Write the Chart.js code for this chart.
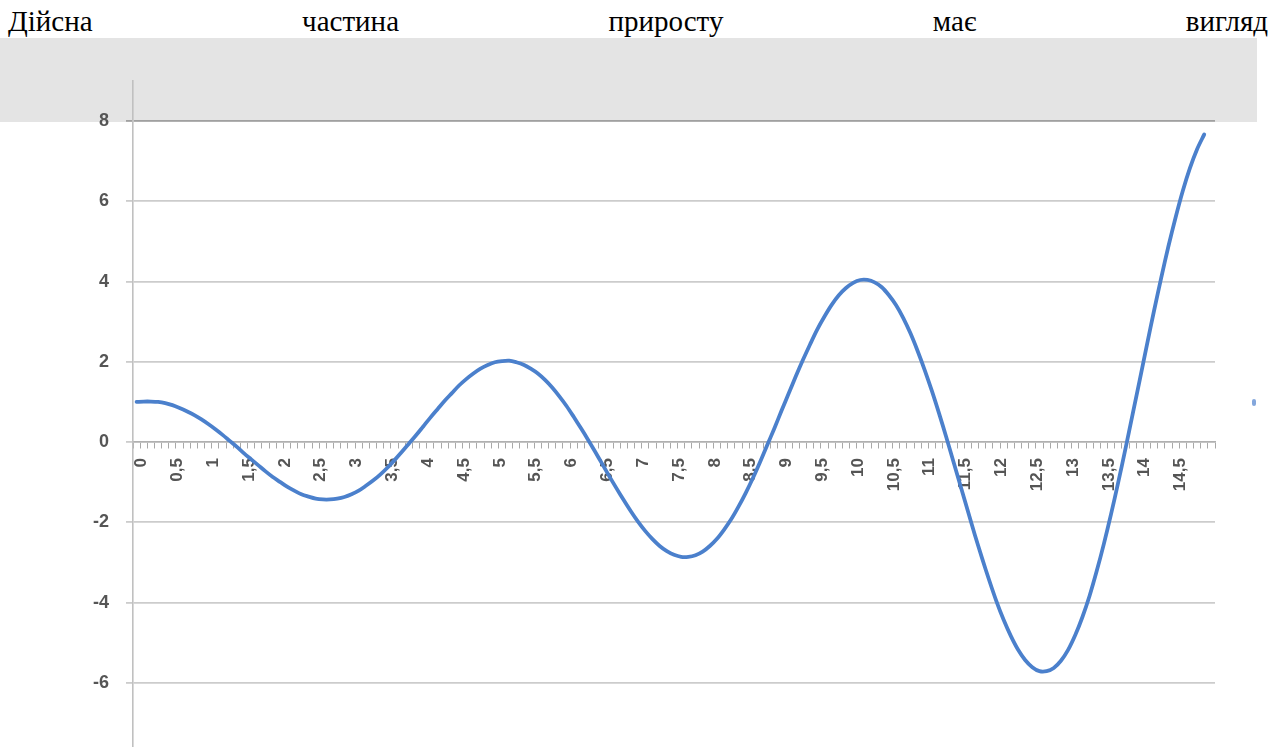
<!DOCTYPE html>
<html>
<head>
<meta charset="utf-8">
<script src="https://cdn.jsdelivr.net/npm/chart.js@4.4.1/dist/chart.umd.min.js"></script>
<style>
  html, body { margin: 0; padding: 0; background: #ffffff; width: 1273px; height: 747px; overflow: hidden; }
  #caption {
    position: absolute; left: 8px; top: 7px; width: 1260px;
    font-family: "Liberation Serif", "Times New Roman", serif; font-size: 29px; line-height: 1;
    color: #000; text-align: justify; text-align-last: justify; white-space: nowrap;
  }
  #band { position: absolute; left: 0; top: 38px; width: 1257px; height: 84px; background: #e4e4e4; }
  #marker { position: absolute; left: 1252px; top: 399px; width: 4px; height: 7px; border-radius: 2px; background: #5b8ad0; opacity: 0.75; }
  #wrap { position: absolute; left: 0; top: 0; width: 1273px; height: 747px; }
</style>
</head>
<body>
<div id="caption">Дійсна частина приросту має вигляд</div>
<div id="band"></div>
<div id="marker"></div>
<div id="wrap"><canvas id="chart"></canvas></div>
<script>
// Argument values, step 0,1
const categories = [
  0, 0.1, 0.2, 0.3, 0.4, 0.5, 0.6, 0.7, 0.8, 0.9,
  1, 1.1, 1.2, 1.3, 1.4, 1.5, 1.6, 1.7, 1.8, 1.9,
  2, 2.1, 2.2, 2.3, 2.4, 2.5, 2.6, 2.7, 2.8, 2.9,
  3, 3.1, 3.2, 3.3, 3.4, 3.5, 3.6, 3.7, 3.8, 3.9,
  4, 4.1, 4.2, 4.3, 4.4, 4.5, 4.6, 4.7, 4.8, 4.9,
  5, 5.1, 5.2, 5.3, 5.4, 5.5, 5.6, 5.7, 5.8, 5.9,
  6, 6.1, 6.2, 6.3, 6.4, 6.5, 6.6, 6.7, 6.8, 6.9,
  7, 7.1, 7.2, 7.3, 7.4, 7.5, 7.6, 7.7, 7.8, 7.9,
  8, 8.1, 8.2, 8.3, 8.4, 8.5, 8.6, 8.7, 8.8, 8.9,
  9, 9.1, 9.2, 9.3, 9.4, 9.5, 9.6, 9.7, 9.8, 9.9,
  10, 10.1, 10.2, 10.3, 10.4, 10.5, 10.6, 10.7, 10.8, 10.9,
  11, 11.1, 11.2, 11.3, 11.4, 11.5, 11.6, 11.7, 11.8, 11.9,
  12, 12.1, 12.2, 12.3, 12.4, 12.5, 12.6, 12.7, 12.8, 12.9,
  13, 13.1, 13.2, 13.3, 13.4, 13.5, 13.6, 13.7, 13.8, 13.9,
  14, 14.1, 14.2, 14.3, 14.4, 14.5, 14.6, 14.7, 14.8, 14.9
];

// Real part of the increment
const realPart = [
  1.00, 1.01, 1.01, 1.00, 0.97, 0.92, 0.85, 0.77, 0.68, 0.57,
  0.45, 0.32, 0.18, 0.03, -0.12, -0.28, -0.43, -0.58, -0.73, -0.87,
  -0.99, -1.11, -1.21, -1.30, -1.36, -1.41, -1.43, -1.43, -1.41, -1.37,
  -1.30, -1.21, -1.09, -0.96, -0.81, -0.64, -0.45, -0.25, -0.04, 0.17,
  0.39, 0.61, 0.82, 1.03, 1.22, 1.41, 1.57, 1.71, 1.83, 1.92,
  1.99, 2.02, 2.03, 1.99, 1.93, 1.83, 1.71, 1.55, 1.36, 1.14,
  0.90, 0.63, 0.35, 0.06, -0.24, -0.55, -0.86, -1.16, -1.45, -1.73,
  -1.99, -2.22, -2.42, -2.59, -2.72, -2.81, -2.86, -2.86, -2.82, -2.73,
  -2.59, -2.41, -2.18, -1.92, -1.61, -1.27, -0.90, -0.50, -0.08, 0.34,
  0.78, 1.21, 1.64, 2.05, 2.44, 2.81, 3.13, 3.42, 3.66, 3.84,
  3.97, 4.04, 4.04, 3.98, 3.86, 3.66, 3.41, 3.09, 2.71, 2.27,
  1.79, 1.27, 0.71, 0.12, -0.49, -1.10, -1.71, -2.32, -2.90, -3.45,
  -3.97, -4.43, -4.83, -5.17, -5.43, -5.61, -5.71, -5.71, -5.63, -5.45,
  -5.18, -4.81, -4.36, -3.83, -3.21, -2.53, -1.79, -1.00, -0.17, 0.69,
  1.55, 2.42, 3.28, 4.10, 4.88, 5.60, 6.26, 6.83, 7.30, 7.67
];

// Labelled categories on the horizontal axis
const xTickLabels = ['0', '0,5', '1', '1,5', '2', '2,5', '3', '3,5', '4', '4,5',
  '5', '5,5', '6', '6,5', '7', '7,5', '8', '8,5', '9', '9,5',
  '10', '10,5', '11', '11,5', '12', '12,5', '13', '13,5', '14', '14,5'];

// Value axis
const yTicks = [-6, -4, -2, 0, 2, 4, 6, 8];
const yMin = -7.6;
const yMax = 9;

const fmt = v => String(v).replace('.', ',');
// one spare slot at the right end of the category axis
const labels = categories.map(fmt).concat(['']);

const labelColor = '#555555';

new Chart(document.getElementById('chart'), {
  type: 'line',
  data: {
    labels: labels,
    datasets: [{
      data: realPart,
      borderColor: '#4b80cc',
      borderWidth: 3.8,
      pointRadius: 0,
      tension: 0.3,
      fill: false,
      borderCapStyle: 'round',
      borderJoinStyle: 'round'
    }]
  },
  options: {
    responsive: true,
    maintainAspectRatio: false,
    animation: false,
    events: [],
    layout: { padding: { top: 81, right: 58, bottom: 0, left: 0 } },
    plugins: { legend: { display: false }, tooltip: { enabled: false } },
    scales: {
      x: {
        type: 'category',
        position: { y: 0 },
        offset: true,
        grid: {
          offset: true,
          drawOnChartArea: false,
          drawTicks: true,
          tickLength: 6,
          color: '#a8a8a8',
          lineWidth: 1
        },
        border: { display: true, color: '#b0b0b0', width: 1.5 },
        ticks: {
          autoSkip: false,
          minRotation: 90,
          maxRotation: 90,
          padding: 10,
          labelOffset: 5,
          color: labelColor,
          font: { family: 'Liberation Sans', size: 17, weight: 'bold' },
          callback: function (value) {
            const l = this.getLabelForValue(value);
            return xTickLabels.includes(l) ? l : '';
          }
        },
        afterFit: s => { s.paddingLeft = 0; s.paddingRight = 0; s.paddingTop = 0; s.paddingBottom = 0; }
      },
      y: {
        min: yMin,
        max: yMax,
        ticks: {
          stepSize: 2,
          padding: 17,
          color: labelColor,
          font: { family: 'Liberation Sans', size: 18, weight: 'bold' }
        },
        afterBuildTicks: s => { s.ticks = yTicks.map(v => ({ value: v })); },
        afterFit: s => { s.width = 133; s.paddingTop = 0; s.paddingBottom = 0; },
        grid: {
          color: ctx => (ctx.tick && ctx.tick.value === 8 ? '#a0a0a0' : '#cccccc'),
          lineWidth: 1.8,
          tickLength: 7
        },
        border: { display: true, color: '#c0c0c0', width: 1.6 }
      }
    }
  }
});
</script>
</body>
</html>
